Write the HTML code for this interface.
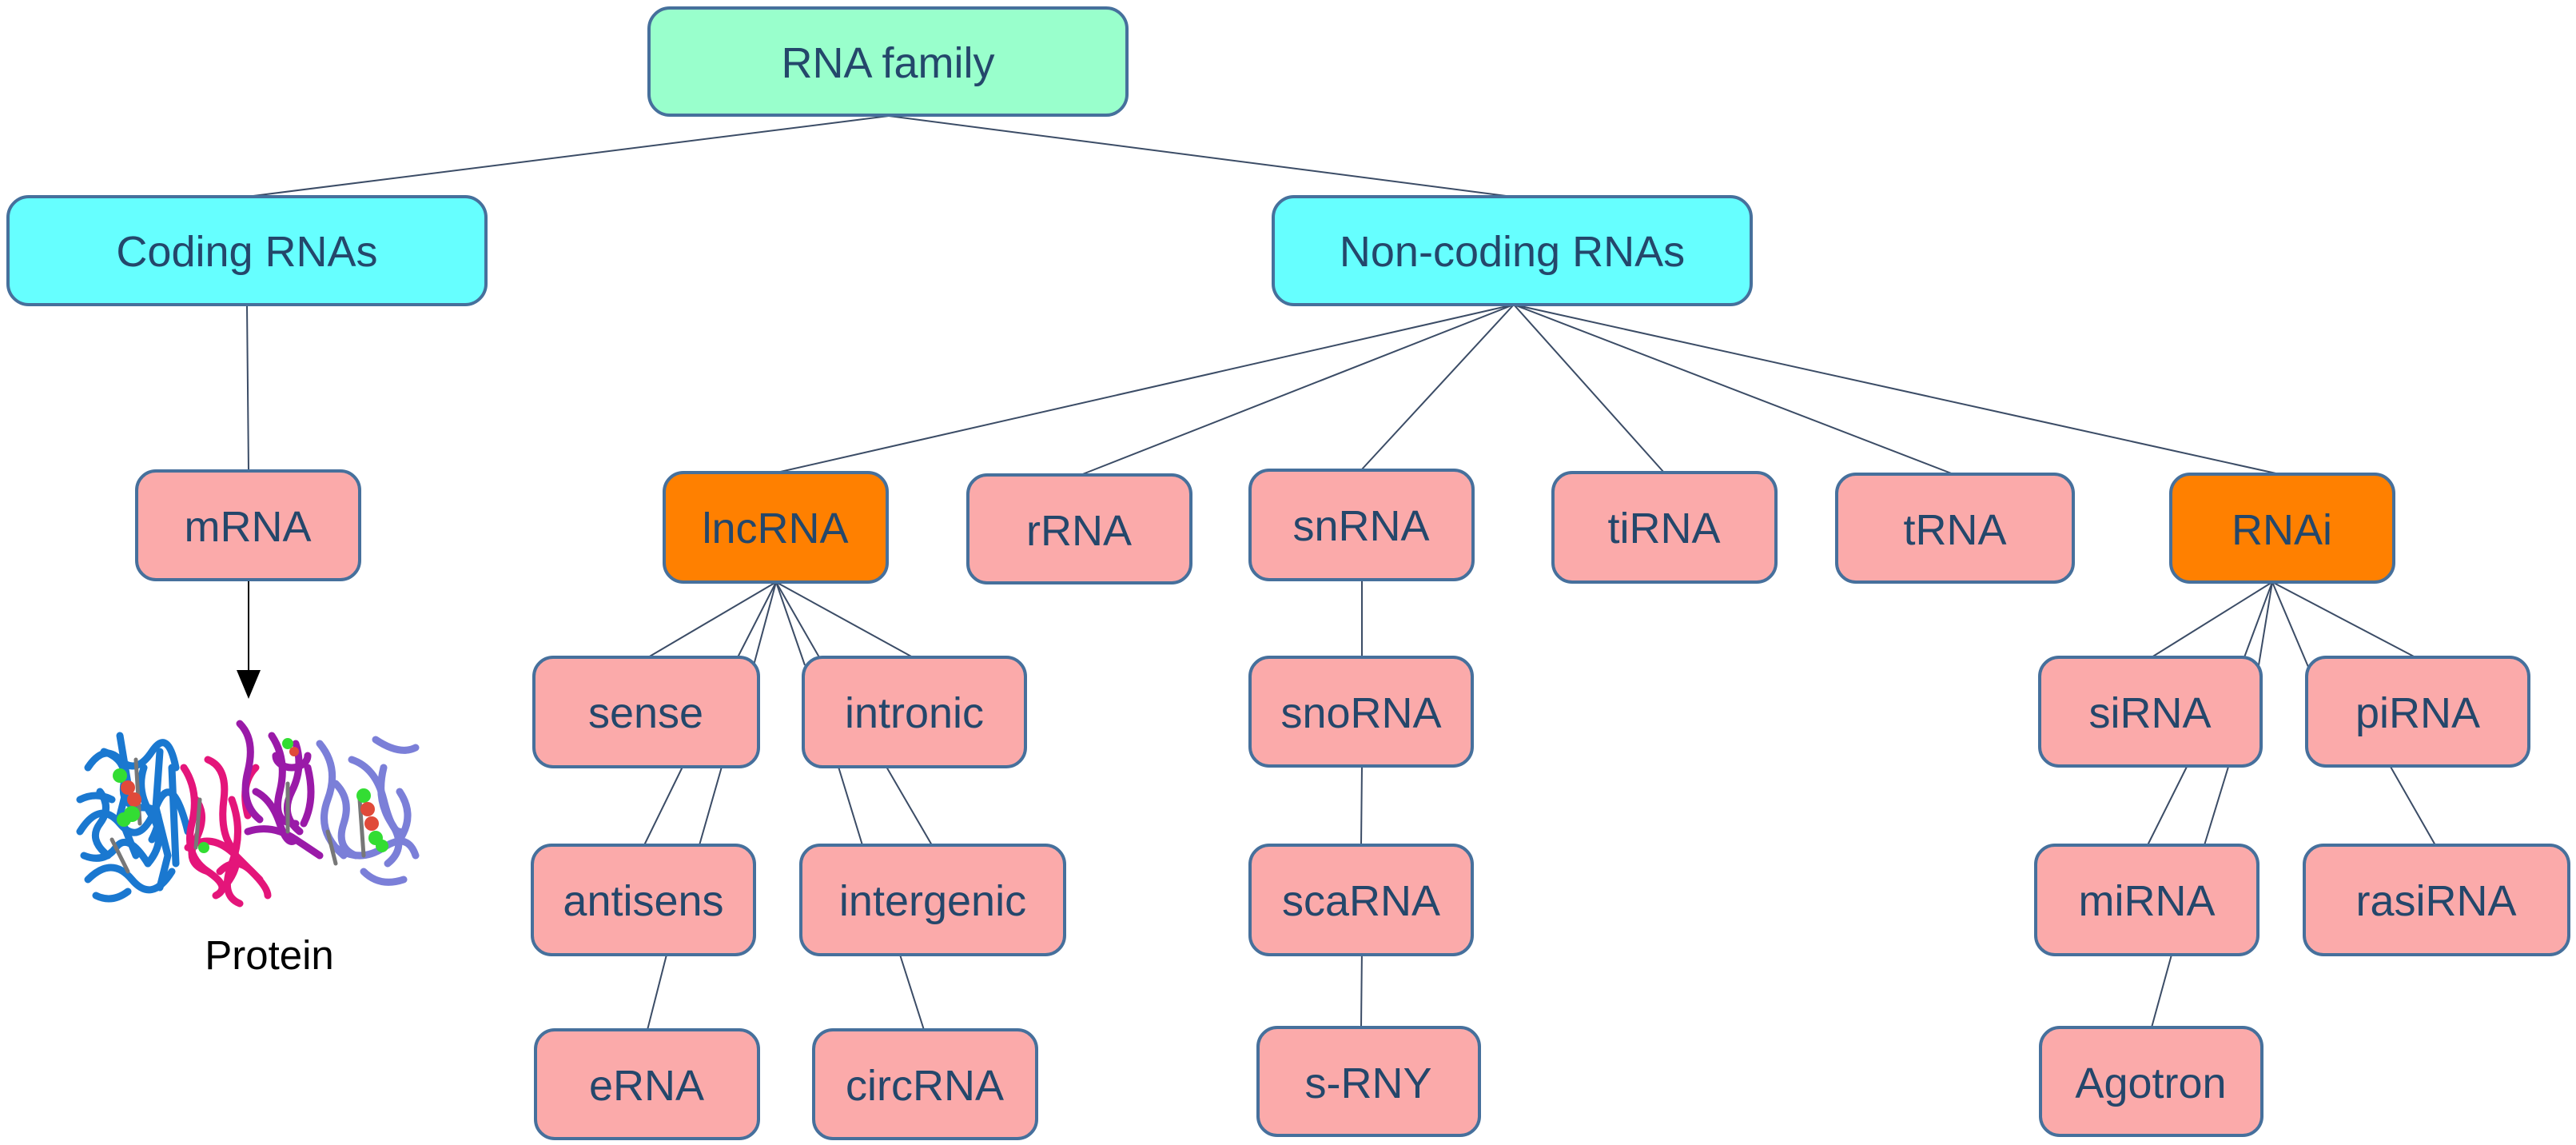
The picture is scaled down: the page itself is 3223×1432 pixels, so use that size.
<!DOCTYPE html>
<html><head><meta charset="utf-8"><style>
html,body{margin:0;padding:0;background:#fff;}
svg{display:block;}
text{font-family:"Liberation Sans",Arial,sans-serif;font-size:54px;fill:#24476b;text-anchor:middle;}
.b{stroke:#46709c;stroke-width:4;}
.l{stroke:#3b4c66;stroke-width:2;fill:none;}
</style></head><body>
<svg width="3223" height="1432" viewBox="0 0 3223 1432" xmlns="http://www.w3.org/2000/svg">
<g class="l">
<line x1="1112" y1="145" x2="309" y2="246"/>
<line x1="1112" y1="145" x2="1892" y2="246"/>
<line x1="309" y1="381" x2="311" y2="589"/>
<line x1="1894" y1="381" x2="972" y2="591"/>
<line x1="1894" y1="381" x2="1352" y2="594"/>
<line x1="1894" y1="381" x2="1703" y2="588"/>
<line x1="1894" y1="381" x2="2082" y2="591"/>
<line x1="1894" y1="381" x2="2444" y2="593"/>
<line x1="1894" y1="381" x2="2852" y2="593"/>
<line x1="971" y1="728" x2="811" y2="822"/>
<line x1="971" y1="728" x2="923" y2="822"/>
<line x1="971" y1="728" x2="943" y2="832"/>
<line x1="971" y1="728" x2="1007" y2="832"/>
<line x1="971" y1="728" x2="1025" y2="822"/>
<line x1="971" y1="728" x2="1142" y2="822"/>
<line x1="854" y1="959" x2="806" y2="1057"/>
<line x1="903" y1="959" x2="875" y2="1057"/>
<line x1="834" y1="1194" x2="810" y2="1288"/>
<line x1="1049" y1="959" x2="1079" y2="1057"/>
<line x1="1109" y1="959" x2="1166" y2="1057"/>
<line x1="1126" y1="1194" x2="1156" y2="1288"/>
<line x1="1704" y1="725" x2="1704" y2="822"/>
<line x1="1704" y1="958" x2="1703" y2="1057"/>
<line x1="1704" y1="1185" x2="1703" y2="1285"/>
<line x1="2843" y1="728" x2="2692" y2="822"/>
<line x1="2843" y1="728" x2="2808" y2="822"/>
<line x1="2843" y1="728" x2="2826" y2="832"/>
<line x1="2843" y1="728" x2="2888" y2="834"/>
<line x1="2843" y1="728" x2="3022" y2="822"/>
<line x1="2736" y1="959" x2="2687" y2="1057"/>
<line x1="2788" y1="959" x2="2758" y2="1057"/>
<line x1="2991" y1="959" x2="3047" y2="1057"/>
<line x1="2717" y1="1194" x2="2692" y2="1285"/>
</g>
<line x1="311" y1="725" x2="311" y2="842" stroke="#000" stroke-width="2"/>
<polygon points="296,838 326,838 311,874" fill="#000"/>
<g class="b">
<rect x="812" y="10" width="598" height="134" rx="26" fill="#99ffcc"/>
<rect x="10" y="246" width="598" height="135" rx="26" fill="#66ffff"/>
<rect x="1593" y="246" width="598" height="135" rx="26" fill="#66ffff"/>
<rect x="171" y="589" width="279" height="136" rx="24" fill="#fbaaaa"/>
<rect x="831" y="591" width="279" height="137" rx="24" fill="#ff8000"/>
<rect x="1211" y="594" width="279" height="135" rx="24" fill="#fbaaaa"/>
<rect x="1564" y="588" width="279" height="137" rx="24" fill="#fbaaaa"/>
<rect x="1943" y="591" width="279" height="137" rx="24" fill="#fbaaaa"/>
<rect x="2298" y="593" width="296" height="135" rx="24" fill="#fbaaaa"/>
<rect x="2716" y="593" width="279" height="135" rx="24" fill="#ff8000"/>
<rect x="668" y="822" width="281" height="137" rx="24" fill="#fbaaaa"/>
<rect x="1005" y="822" width="278" height="137" rx="24" fill="#fbaaaa"/>
<rect x="666" y="1057" width="278" height="137" rx="24" fill="#fbaaaa"/>
<rect x="1002" y="1057" width="330" height="137" rx="24" fill="#fbaaaa"/>
<rect x="670" y="1288" width="279" height="136" rx="24" fill="#fbaaaa"/>
<rect x="1018" y="1288" width="279" height="136" rx="24" fill="#fbaaaa"/>
<rect x="1564" y="822" width="278" height="136" rx="24" fill="#fbaaaa"/>
<rect x="1564" y="1057" width="278" height="137" rx="24" fill="#fbaaaa"/>
<rect x="1574" y="1285" width="277" height="135" rx="24" fill="#fbaaaa"/>
<rect x="2552" y="822" width="277" height="136" rx="24" fill="#fbaaaa"/>
<rect x="2886" y="822" width="278" height="136" rx="24" fill="#fbaaaa"/>
<rect x="2547" y="1057" width="278" height="137" rx="24" fill="#fbaaaa"/>
<rect x="2883" y="1057" width="331" height="137" rx="24" fill="#fbaaaa"/>
<rect x="2553" y="1285" width="277" height="135" rx="24" fill="#fbaaaa"/>
</g>
<text x="1111" y="97">RNA family</text>
<text x="309" y="333">Coding RNAs</text>
<text x="1892" y="333">Non-coding RNAs</text>
<text x="310" y="677">mRNA</text>
<text x="970" y="679">lncRNA</text>
<text x="1350" y="682">rRNA</text>
<text x="1703" y="676">snRNA</text>
<text x="2082" y="679">tiRNA</text>
<text x="2446" y="681">tRNA</text>
<text x="2855" y="681">RNAi</text>
<text x="808" y="910">sense</text>
<text x="1144" y="910">intronic</text>
<text x="805" y="1145">antisens</text>
<text x="1167" y="1145">intergenic</text>
<text x="809" y="1376">eRNA</text>
<text x="1157" y="1376">circRNA</text>
<text x="1703" y="910">snoRNA</text>
<text x="1703" y="1145">scaRNA</text>
<text x="1712" y="1373">s-RNY</text>
<text x="2690" y="910">siRNA</text>
<text x="3025" y="910">piRNA</text>
<text x="2686" y="1145">miRNA</text>
<text x="3048" y="1145">rasiRNA</text>
<text x="2691" y="1373">Agotron</text>
<text x="337" y="1212" style="fill:#000;font-size:51px">Protein</text>
<g fill="none" stroke-width="9" stroke-linecap="round">
<g stroke="#1a78d0">
<path d="M110,960 q20,-30 40,-10 t40,-10 t30,20"/>
<path d="M100,1040 q25,-40 50,-10 t45,-20 t40,30"/>
<path d="M110,1100 q30,-30 55,0 t50,-10"/>
<path d="M150,920 l10,60 l-10,40 l20,50"/>
<path d="M200,940 l-5,70 l15,60 l-10,40"/>
<path d="M125,990 q15,20 0,40 t10,40"/>
<path d="M215,960 l5,120"/>
<path d="M100,1000 q20,-10 40,0"/>
<path d="M130,940 q30,10 25,40 t25,30 t10,40"/>
<path d="M105,1070 q25,10 40,-10 t40,20"/>
<path d="M180,960 q-10,30 10,60 t-5,60"/>
<path d="M120,1120 q20,10 40,-5"/>
</g>
<g stroke="#e4157a">
<path d="M230,960 q20,30 10,70 t20,60 t10,30"/>
<path d="M260,950 q25,10 20,50 t10,60 t-10,50"/>
<path d="M290,1000 q15,40 0,80 t10,50"/>
<path d="M235,1060 q30,-20 60,10 t30,30"/>
<path d="M320,960 q-20,20 -10,60"/>
<path d="M245,1000 q15,20 0,50 t15,40"/>
<path d="M275,1090 q20,-20 40,0 t20,30"/>
</g>
<g stroke="#9a1aa8">
<path d="M300,905 q20,20 10,60 t15,60"/>
<path d="M340,920 q20,30 10,70 t20,40"/>
<path d="M370,930 q10,30 -5,60 t10,50"/>
<path d="M310,1040 q30,-10 60,10 t30,20"/>
<path d="M345,945 a20,15 0 1 0 40,0"/>
<path d="M320,990 q20,10 30,40 t20,20"/>
<path d="M385,960 q10,40 -5,70"/>
</g>
<g stroke="#7b7fd8">
<path d="M400,930 q25,30 10,70 t20,70"/>
<path d="M440,950 q30,10 40,50 t20,40"/>
<path d="M470,925 q30,20 50,10"/>
<path d="M420,1060 q30,20 60,0 t40,10"/>
<path d="M500,990 q20,30 0,60"/>
<path d="M455,1090 q20,20 50,10"/>
<path d="M420,980 q20,20 10,50 t15,40"/>
<path d="M480,960 q-10,40 10,70 t-5,50"/>
</g>
<g stroke="#777" stroke-width="5">
<path d="M170,950 l5,80"/><path d="M250,1000 l-5,60"/><path d="M360,980 l0,60"/><path d="M450,1000 l5,70"/><path d="M140,1050 l20,40"/><path d="M410,1040 l10,40"/>
</g>
</g>
<g>
<circle cx="150" cy="970" r="9" fill="#33dd33"/><circle cx="160" cy="985" r="9" fill="#e04a3a"/><circle cx="168" cy="1000" r="9" fill="#e04a3a"/><circle cx="165" cy="1018" r="10" fill="#33dd33"/><circle cx="155" cy="1025" r="9" fill="#33dd33"/>
<circle cx="455" cy="995" r="9" fill="#33dd33"/><circle cx="460" cy="1012" r="9" fill="#e04a3a"/><circle cx="465" cy="1030" r="9" fill="#e04a3a"/><circle cx="470" cy="1048" r="9" fill="#33dd33"/><circle cx="478" cy="1058" r="8" fill="#33dd33"/>
<circle cx="360" cy="930" r="7" fill="#33dd33"/><circle cx="255" cy="1060" r="7" fill="#33dd33"/><circle cx="368" cy="940" r="6" fill="#e04a3a"/>
</g>
</svg>
</body></html>
